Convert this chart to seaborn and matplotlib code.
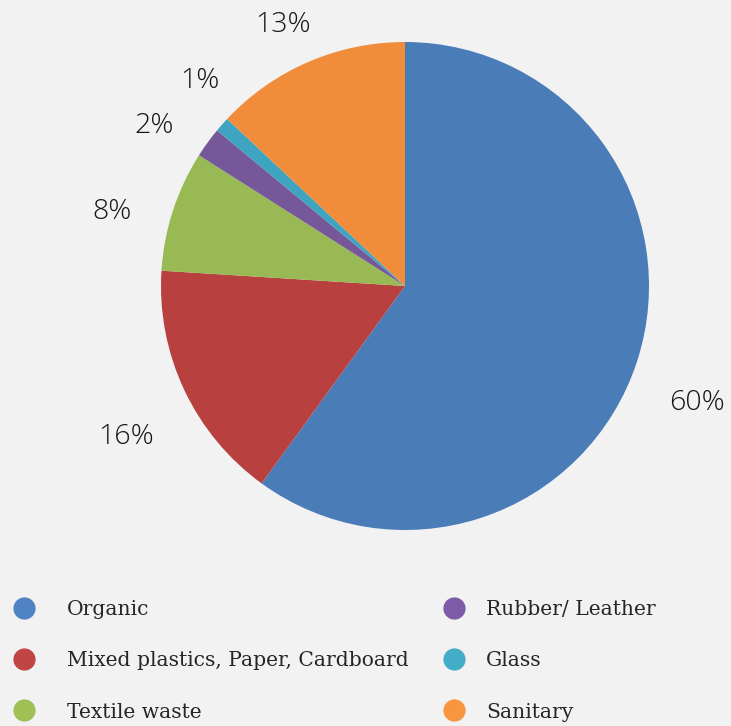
import matplotlib
matplotlib.use('Agg')
import numpy as np
import matplotlib.pyplot as plt
from matplotlib.lines import Line2D
import seaborn as sns

sns.set_style('white')

categories = ['Organic', 'Mixed plastics, Paper, Cardboard', 'Textile waste',
              'Rubber/ Leather', 'Glass', 'Sanitary']
shares = [60, 16, 8, 2, 1, 13]
colors = ['#4a7cb8', '#b84140', '#98b954', '#76579a', '#3fa4c0', '#f08c3a']
legend_colors = ['#4f83c4', '#c04545', '#9fc054', '#7d5ba6', '#43adc8', '#f7963e']

# label placement (distance from centre in radii, angular nudge in degrees)
label_dist = [1.29, 1.30, 1.24, 1.22, 1.19, 1.18]
label_nudge = [-3.8, 3.2, 3.8, 3.4, -3.6, 1.6]

bg = '#f2f2f2'
fig = plt.figure(figsize=(7.31, 7.26), dpi=100, facecolor=bg)
W, H = 731, 726
cx, cy, r = 405, 286, 244
ax = fig.add_axes([(cx - r) / W, (H - cy - r) / H, 2 * r / W, 2 * r / H])
ax.set_facecolor(bg)

wedges, _ = ax.pie(shares, colors=colors, startangle=90, counterclock=False,
                   radius=1, wedgeprops=dict(linewidth=0))
for w, v, d, n in zip(wedges, shares, label_dist, label_nudge):
    mid = np.deg2rad((w.theta1 + w.theta2) / 2 + n)
    ax.text(d * np.cos(mid), d * np.sin(mid), f'{v}%', ha='center', va='center',
            fontfamily='Open Sans', fontweight='light', fontsize=20.5,
            color='#161616')
ax.set_xlim(-1, 1)
ax.set_ylim(-1, 1)
ax.set_aspect('equal')
ax.axis('off')

handles = [Line2D([], [], linestyle='none', marker='o', markersize=16,
                  markerfacecolor=c, markeredgewidth=0) for c in legend_colors]
fs = 14.6
mid_row = (H - 661) / H
for cols, x0, pad in [(slice(0, 3), 13.4, 1.62), (slice(3, 6), 443.4, 1.10)]:
    leg = fig.legend(handles[cols], categories[cols], ncol=1, loc='center left',
                     bbox_to_anchor=(x0 / W, mid_row), frameon=False,
                     prop=dict(family='DejaVu Serif', size=fs),
                     handlelength=1.0, handletextpad=pad, labelspacing=1.58,
                     borderaxespad=0, borderpad=0)
    for t in leg.get_texts():
        t.set_color('#262626')

fig.savefig('out.png', dpi=100, facecolor=bg)
